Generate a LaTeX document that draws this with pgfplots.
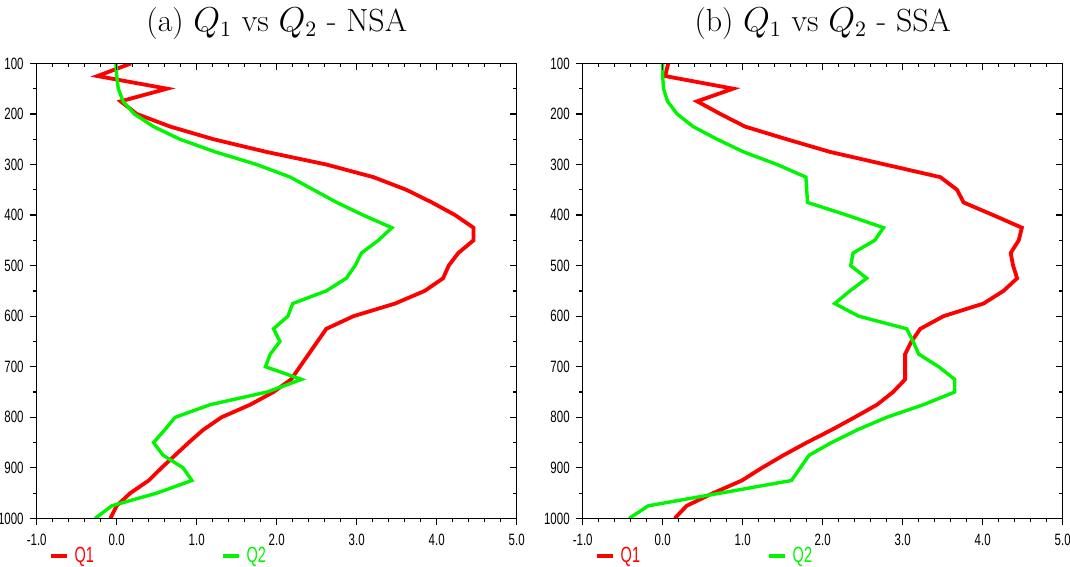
\documentclass[border=0pt]{standalone}
\usepackage{pgfplots}
\usepackage{pgfplotstable}
\pgfplotsset{compat=1.18}
\usepackage{fontspec}
\newfontfamily\tickfont[FakeStretch=0.7]{Liberation Sans}
\newfontfamily\legfont[FakeStretch=0.66]{Liberation Sans}
\definecolor{qred}{RGB}{255,0,0}
\definecolor{qgreen}{RGB}{0,245,0}

\pgfplotstableread{
p q1 q2
100 0.18 -0.01
125 -0.24 0.00
150 0.63 0.02
175 0.05 0.08
200 0.25 0.22
225 0.67 0.46
250 1.21 0.79
275 1.87 1.23
300 2.62 1.75
325 3.21 2.17
350 3.62 2.46
375 3.94 2.75
400 4.23 3.08
425 4.46 3.44
450 4.46 3.27
475 4.27 3.06
500 4.15 2.98
525 4.08 2.87
550 3.85 2.62
575 3.48 2.20
600 2.96 2.14
625 2.62 1.96
650 2.51 2.04
675 2.40 1.92
700 2.29 1.86
725 2.18 2.31
750 1.96 1.88
775 1.67 1.17
800 1.31 0.73
825 1.08 0.60
850 0.90 0.46
875 0.73 0.58
900 0.56 0.83
925 0.40 0.94
950 0.17 0.50
975 0.00 -0.06
1000 -0.08 -0.27
}\nsa

\pgfplotstableread{
p q1 q2
100 0.07 0.00
125 0.03 0.00
150 0.88 0.01
175 0.43 0.06
200 0.72 0.18
225 1.03 0.38
250 1.55 0.68
275 2.09 1.01
300 2.78 1.43
325 3.47 1.79
350 3.68 1.80
375 3.76 1.81
400 4.13 2.30
425 4.49 2.76
450 4.45 2.65
475 4.35 2.38
500 4.38 2.35
525 4.43 2.55
550 4.26 2.34
575 4.01 2.15
600 3.51 2.45
625 3.22 3.05
650 3.11 3.13
675 3.03 3.20
700 3.03 3.45
725 3.03 3.65
750 2.88 3.65
775 2.68 3.26
800 2.40 2.80
825 2.11 2.43
850 1.80 2.11
875 1.51 1.83
900 1.24 1.72
925 0.99 1.61
950 0.63 0.72
975 0.30 -0.18
1000 0.15 -0.42
}\ssa

\pgfplotsset{
  frame/.style={
    width=240pt, height=227.5pt, scale only axis,
    xmin=-1, xmax=5, ymin=100, ymax=1000, y dir=reverse,
    xtick={-1,0,1,2,3,4,5},
    minor x tick num=4,
    ytick={100,200,300,400,500,600,700,800,900,1000},
    minor y tick num=1,
    axis line style={line width=0.75pt},
    every tick/.style={black, line width=0.6pt},
    major tick length=3.5pt, minor tick length=2pt,
  },
  panel/.style={
    frame,
    tick align=outside, xtick pos=left, ytick pos=left,
    xticklabels={-1.0,0.0,1.0,2.0,3.0,4.0,5.0},
    yticklabels={100,200,300,400,500,600,700,800,900,1000},
    tick label style={font=\tickfont\fontsize{8.2}{9.5}\selectfont},
    xticklabel style={yshift=-1pt},
    yticklabel style={xshift=0.5pt},
    title style={at={(0.5,1)}, anchor=base, yshift=10pt, font=\fontsize{16}{19}\selectfont},
    legend style={at={(0,0)}, anchor=west, xshift=5.8pt, yshift=-18.8pt,
      draw=none, fill=none, legend columns=2, inner sep=0pt,
      font=\legfont\fontsize{11}{13}\selectfont,
      nodes={inner xsep=3pt, inner ysep=1pt, text width=70pt, align=left}},
    legend cell align=left,
    legend image code/.code={\draw[#1, line width=2.2pt] (0pt,0pt) -- (7.8pt,0pt);},
  },
  mirror/.style={
    frame,
    tick align=inside, xtick pos=right, ytick pos=right,
    xticklabels={}, yticklabels={},
  },
}

\begin{document}
\begin{tikzpicture}
\path[use as bounding box] (-18.35pt,-24.3pt) rectangle (516.65pt,259.2pt);

\begin{axis}[panel, at={(0pt,0pt)}, title={(a) $Q_1$ vs $Q_2$ - NSA}]
\addplot[qred, line width=1.9pt] table[x=q1, y=p] {\nsa};
\addlegendentry{\textcolor{qred}{Q1}}
\addplot[qgreen, line width=1.7pt] table[x=q2, y=p] {\nsa};
\addlegendentry{\textcolor{qgreen}{Q2}}
\end{axis}
\begin{axis}[mirror, at={(0pt,0pt)}]
\end{axis}

\begin{axis}[panel, at={(273pt,0pt)}, title={(b) $Q_1$ vs $Q_2$ - SSA}]
\addplot[qred, line width=1.9pt] table[x=q1, y=p] {\ssa};
\addlegendentry{\textcolor{qred}{Q1}}
\addplot[qgreen, line width=1.7pt] table[x=q2, y=p] {\ssa};
\addlegendentry{\textcolor{qgreen}{Q2}}
\end{axis}
\begin{axis}[mirror, at={(273pt,0pt)}]
\end{axis}
\end{tikzpicture}
\end{document}
